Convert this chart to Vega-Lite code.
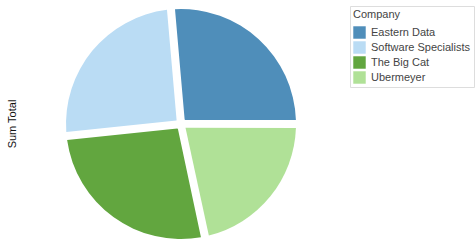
{
  "$schema": "https://vega.github.io/schema/vega-lite/v6.json",
  "width": 242,
  "height": 248,
  "autosize": {"type": "none"},
  "padding": {"left": 60, "top": 0, "right": 173, "bottom": 3},
  "background": "white",
  "title": {
    "text": "Sum Total",
    "orient": "left",
    "frame": "group",
    "anchor": "middle",
    "offset": 42,
    "fontSize": 11,
    "fontWeight": "normal",
    "font": "Liberation Sans",
    "color": "#111"
  },
  "data": {
    "values": [
      {"Company": "Eastern Data", "Total": 95},
      {"Company": "Software Specialists", "Total": 91},
      {"Company": "The Big Cat", "Total": 96},
      {"Company": "Ubermeyer", "Total": 78}
    ]
  },
  "mark": {"type": "arc", "outerRadius": 115, "innerRadius": 5.8, "padAngle": 0.07},
  "encoding": {
    "theta": {
      "field": "Total",
      "type": "quantitative",
      "stack": true,
      "scale": {"range": [1.5708, 7.854]}
    },
    "order": {"field": "Company", "type": "nominal", "sort": "descending"},
    "color": {
      "field": "Company",
      "type": "nominal",
      "scale": {
        "domain": ["Eastern Data", "Software Specialists", "The Big Cat", "Ubermeyer"],
        "range": ["#4f8eba", "#badcf4", "#62a63f", "#b0e197"]
      },
      "legend": {
        "orient": "none",
        "legendX": 290,
        "legendY": 6,
        "title": "Company",
        "titleFont": "Liberation Sans",
        "titleFontSize": 11,
        "titleFontWeight": "normal",
        "titleColor": "#444",
        "titlePadding": 6,
        "labelFont": "Liberation Sans",
        "labelFontSize": 11,
        "labelColor": "#444",
        "labelOffset": 5,
        "symbolType": "square",
        "symbolSize": 155,
        "symbolStrokeWidth": 0,
        "symbolOpacity": 1,
        "rowPadding": 2,
        "padding": 3,
        "strokeColor": "#ddd",
        "fillColor": "white"
      }
    }
  },
  "config": {"view": {"stroke": null}}
}
